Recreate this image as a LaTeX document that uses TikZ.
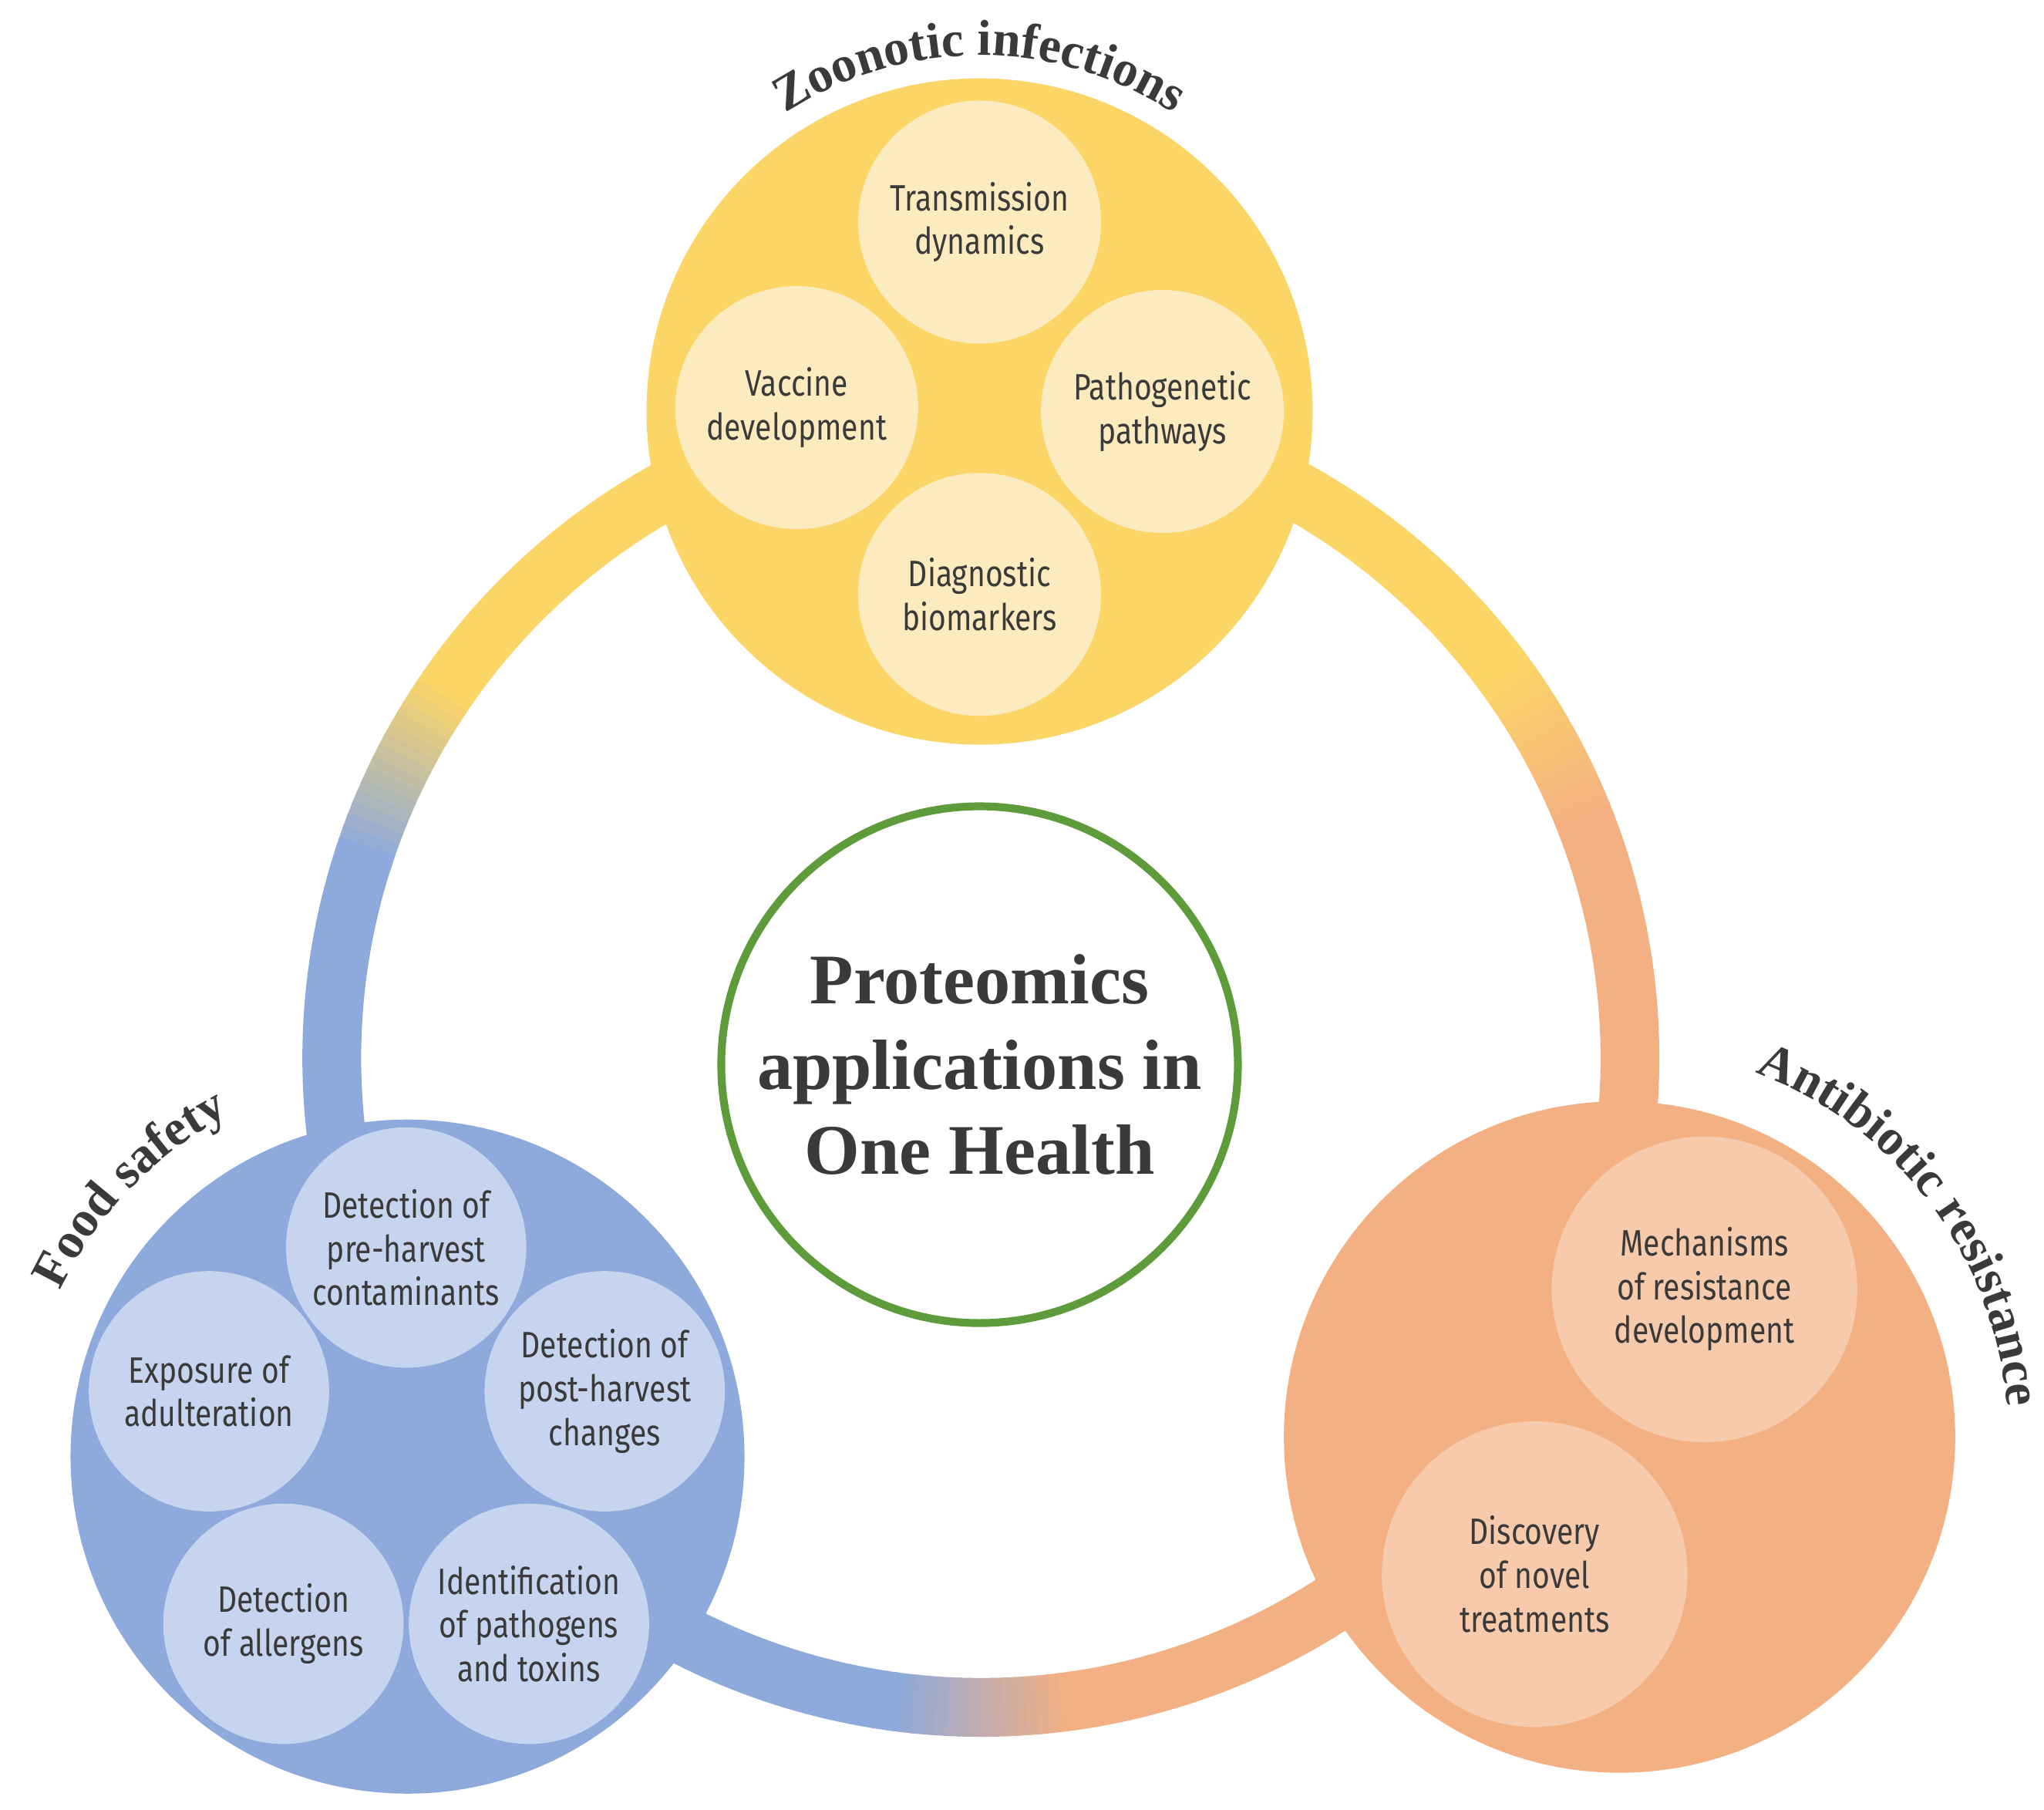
\documentclass[tikz,border=0pt]{standalone}
\usepackage{fontspec}
\setmainfont{Liberation Serif}
\newfontfamily\cond[FakeStretch=0.82]{Fira Sans}
\usetikzlibrary{decorations.text}
\definecolor{yel}{HTML}{FCD567}\definecolor{lyel}{HTML}{FBEBBE}
\definecolor{blu}{HTML}{8EA9DB}\definecolor{lblu}{HTML}{C6D4EF}
\definecolor{ora}{HTML}{F3B083}\definecolor{lora}{HTML}{F7CAAB}
\definecolor{grn}{HTML}{5E9C3B}\definecolor{txt}{HTML}{3A3A3A}
\begin{document}
\begin{tikzpicture}[
  small/.style={circle,inner sep=0pt,align=center,text=txt,font=\cond\fontsize{16}{19}\selectfont},
  lab/.style={decorate,decoration={text along path,text align=center,
     text={|\fontsize{22}{26}\selectfont\bfseries\color{txt}|#1}}}]
\fill[white] (0,0) rectangle (31.3,27.7);
\useasboundingbox (0,0) rectangle (31.3,27.7);
\coordinate (C) at (15.02,11.5);
\def\R{9.94}
\tikzset{ring/.style={line width=0.9cm,line cap=butt}}
\draw[ring,ora] ([shift={(-82:\R)}]C) arc[start angle=-82,end angle=21.5,radius=\R];
\draw[ring,yel] ([shift={(36.5:\R)}]C) arc[start angle=36.5,end angle=145.5,radius=\R];
\draw[ring,blu] ([shift={(161.5:\R)}]C) arc[start angle=161.5,end angle=262.5,radius=\R];
\foreach \i in {0,...,15}{
  \pgfmathsetmacro\p{\i*100/15}
  \pgfmathsetmacro\a{21+\i}
  \draw[ring,color=yel!\p!ora] ([shift={(\a:\R)}]C) arc[start angle=\a,end angle=\a+1.3,radius=\R];
  \pgfmathsetmacro\a{145+\i*17/16}
  \draw[ring,color=blu!\p!yel] ([shift={(\a:\R)}]C) arc[start angle=\a,end angle=\a+1.4,radius=\R];
  \pgfmathsetmacro\a{262+\i}
  \draw[ring,color=ora!\p!blu] ([shift={(\a:\R)}]C) arc[start angle=\a,end angle=\a+1.3,radius=\R];
}
% main circles
\node[circle,fill=yel,minimum size=10.2cm] (Y) at (15.0,21.4) {};
\node[circle,fill=blu,minimum size=10.32cm] (B) at (6.24,5.4) {};
\node[circle,fill=ora,minimum size=10.28cm] (O) at (24.8,5.7) {};
\node[circle,draw=grn,line width=0.12cm,fill=white,minimum size=7.5cm,align=center,text=txt,
  font=\bfseries\fontsize{31}{37}\selectfont] (G) at (15.0,11.4) {Proteomics\\applications in\\One Health};
% yellow smalls
\tikzset{ys/.style={small,fill=lyel,minimum size=3.72cm}}
\node[ys] (t) at (15.0,24.3) {Transmission\\dynamics};
\node[ys] (v) at (12.2,21.46) {Vaccine\\development};
\node[ys] (p) at (17.8,21.4) {Pathogenetic\\pathways};
\node[ys] (d) at (15.0,18.6) {Diagnostic\\biomarkers};
% blue smalls
\tikzset{bs/.style={small,fill=lblu,minimum size=3.68cm}}
\node[bs] (b1) at (6.22,8.6) {Detection of\\pre-harvest\\contaminants};
\node[bs] (b2) at (3.2,6.4) {Exposure of\\adulteration};
\node[bs] (b3) at (9.26,6.4) {Detection of\\post-harvest\\changes};
\node[bs] (b4) at (4.34,2.84) {Detection\\of allergens};
\node[bs] (b5) at (8.1,2.84) {Identification\\of pathogens\\and toxins};
% orange smalls
\tikzset{os/.style={small,fill=lora,minimum size=4.68cm}}
\node[os] (o1) at (26.1,7.96) {Mechanisms\\of resistance\\development};
\node[os] (o2) at (23.5,3.6) {Discovery\\of novel\\treatments};
% curved labels
\path[lab=Zoonotic infections] ([shift={(129:5.45)}]Y.center) arc[start angle=129,end angle=51,radius=5.45];
\path[lab=Antibiotic resistance] ([shift={(76:5.95)}]O.center) arc[start angle=76,end angle=-2,radius=5.95];
\path[lab=Food safety] ([shift={(160:5.9)}]B.center) arc[start angle=160,end angle=112,radius=5.9];
\end{tikzpicture}
\end{document}
